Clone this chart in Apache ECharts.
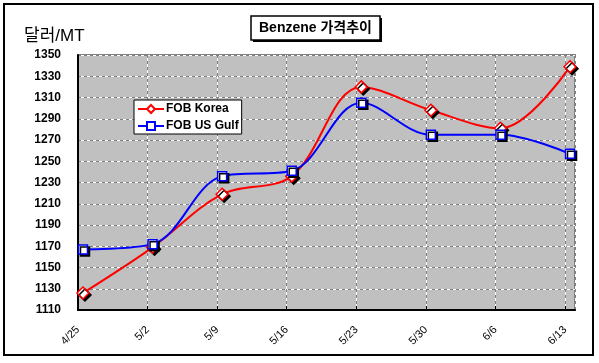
<!DOCTYPE html>
<html>
<head>
<meta charset="utf-8">
<script src="https://cdn.jsdelivr.net/npm/echarts@6/dist/echarts.min.js"></script>
<style>
html,body{margin:0;padding:0;background:#fff;}
#chart{width:599px;height:363px;}
</style>
</head>
<body>
<div id="chart"></div>
<script>
// ---- data ----
var dateLabels = ['4/25', '5/2', '5/9', '5/16', '5/23', '5/30', '6/6', '6/13'];
var dayOffsets = [0, 7, 14, 21, 28, 35, 42, 49]; // days since 4/25
var fobKorea = [1126, 1169, 1219, 1236, 1320, 1298, 1281, 1339];
var fobUSGulf = [1167, 1172, 1236, 1241, 1305, 1275, 1275, 1257];
var yTicks = { min: 1110, max: 1350, step: 20 };
var titleText = 'Benzene 가격추이';
var unitText = '달러/MT';
var seriesNames = ['FOB Korea', 'FOB US Gulf'];

// Excel date axis: each point sits in the middle of its one-day slot
function pts(vals) {
  return vals.map(function (v, i) { return [dayOffsets[i] + 0.5, v]; });
}
function xLabel(v) {
  var i = dayOffsets.indexOf(v);
  return i >= 0 ? dateLabels[i] : '';
}

var chart = echarts.init(document.getElementById('chart'), null, { renderer: 'canvas' });
var font = 'Liberation Sans, Arial, sans-serif';
var baseX = { type: 'value', min: 0, max: 50, interval: 7 };
var baseY = { type: 'value', min: yTicks.min, max: yTicks.max, interval: yTicks.step };

var option = {
  animation: false,
  backgroundColor: '#ffffff',
  grid: {
    left: 78, top: 55, right: 24, bottom: 53,
    show: true, backgroundColor: '#c0c0c0', borderColor: '#808080', borderWidth: 2
  },
  xAxis: [
    Object.assign({}, baseX, {
      position: 'bottom',
      axisLine: { show: true, lineStyle: { color: '#000', width: 2 } },
      axisTick: { show: true, inside: true, length: 4, lineStyle: { color: '#000' } },
      axisLabel: {
        rotate: 45, margin: 18, fontSize: 11, fontFamily: font, color: '#000',
        formatter: xLabel, showMaxLabel: false
      },
      splitLine: { show: true, lineStyle: { color: '#ffffff', width: 1 } }
    }),
    Object.assign({}, baseX, {
      position: 'top',
      axisLine: { show: false }, axisTick: { show: false }, axisLabel: { show: false },
      splitLine: { show: true, lineStyle: { color: '#808080', width: 1, type: [3, 3] } }
    })
  ],
  yAxis: [
    Object.assign({}, baseY, {
      position: 'left',
      axisLine: { show: true, lineStyle: { color: '#000', width: 2 } },
      axisTick: { show: false },
      axisLabel: {
        margin: 17, fontSize: 12, fontWeight: 'bold', fontFamily: font, color: '#000',
        formatter: function (v) { return String(v); }
      },
      splitLine: { show: true, lineStyle: { color: '#ffffff', width: 1 } }
    }),
    Object.assign({}, baseY, {
      position: 'right',
      axisLine: { show: false }, axisTick: { show: false }, axisLabel: { show: false },
      splitLine: { show: true, lineStyle: { color: '#808080', width: 1, type: [3, 3] } }
    })
  ],
  legend: {
    orient: 'vertical', left: 134, top: 100,
    backgroundColor: '#ffffff', borderColor: '#000', borderWidth: 1,
    padding: [3, 3, 2, 3], itemGap: 5, itemWidth: 26, itemHeight: 10,
    textStyle: { fontSize: 12, fontWeight: 'bold', fontFamily: font, color: '#000', padding: [0, 0, 0, -3] },
    data: seriesNames
  },
  series: [
    {
      name: seriesNames[0], type: 'line', smooth: 0.35,
      data: pts(fobKorea),
      symbol: 'diamond', symbolSize: 12,
      lineStyle: { color: '#ff0000', width: 2 },
      itemStyle: {
        color: '#ffffff', borderColor: '#ff0000', borderWidth: 1.5,
        shadowColor: '#000', shadowBlur: 0, shadowOffsetX: 2, shadowOffsetY: 2
      }
    },
    {
      name: seriesNames[1], type: 'line', smooth: 0.35,
      data: pts(fobUSGulf),
      symbol: 'rect', symbolSize: 9,
      lineStyle: { color: '#0000ff', width: 2 },
      itemStyle: {
        color: '#ffffff', borderColor: '#0000ff', borderWidth: 1.5,
        shadowColor: '#000', shadowBlur: 0, shadowOffsetX: 2, shadowOffsetY: 2
      }
    }
  ],
  graphic: [
    { type: 'rect', z: 0, silent: true,
      shape: { x: 4, y: 4, width: 589, height: 351 },
      style: { fill: 'none', stroke: '#000', lineWidth: 2 } },
    { type: 'rect', z: 10, silent: true,
      shape: { x: 253, y: 18, width: 129, height: 24 },
      style: { fill: '#000' } },
    { type: 'rect', z: 11, silent: true,
      shape: { x: 251, y: 16, width: 129, height: 24 },
      style: { fill: '#fff', stroke: '#000', lineWidth: 1.5 } },
    { type: 'text', z: 12, silent: true, x: 315.5, y: 28.5,
      style: { text: titleText, fill: '#000', font: 'bold 14px ' + font + ', "Noto Sans CJK KR"',
        textAlign: 'center', textVerticalAlign: 'middle' } },
    { type: 'text', z: 12, silent: true, x: 24, y: 36,
      style: { text: unitText, fill: '#000', font: '17px ' + font + ', "Noto Sans CJK KR"',
        textAlign: 'left', textVerticalAlign: 'middle' } }
  ]
};
chart.setOption(option);
</script>
</body>
</html>
